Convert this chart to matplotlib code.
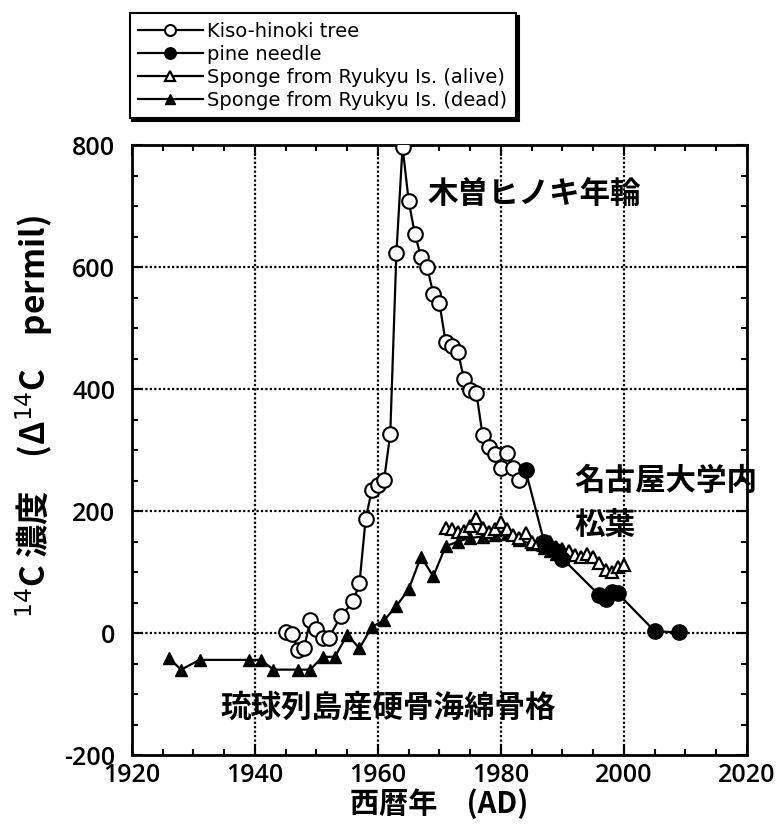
import matplotlib
matplotlib.use("Agg")
import matplotlib.pyplot as plt
from matplotlib.ticker import MultipleLocator
import numpy as np

plt.rcParams['font.family'] = ['DejaVu Sans', 'Noto Sans CJK JP']
plt.rcParams['mathtext.fontset'] = 'dejavusans'
plt.rcParams['axes.unicode_minus'] = False

# ---- data ----
kiso_years = [1945, 1946, 1947, 1948, 1949, 1950, 1951, 1952, 1954, 1956, 1957, 1958,
              1959, 1960, 1961, 1962, 1963, 1964, 1965, 1966, 1967, 1968, 1969, 1970,
              1971, 1972, 1973, 1974, 1975, 1976, 1977, 1978, 1979, 1980, 1981, 1982, 1983]
kiso_vals = [2, -2, -28, -24, 21, 6, -8, -8, 28, 52, 82, 187,
             234, 243, 251, 326, 623, 797, 708, 654, 617, 600, 556, 541,
             477, 470, 461, 416, 398, 394, 325, 305, 293, 270, 295, 270, 251]

pine_years = [1984, 1987, 1988, 1989, 1990, 1996, 1997, 1998, 1999, 2005, 2009]
pine_vals = [267, 150, 140, 135, 122, 62, 55, 68, 65, 3, 1]

alive_years = [1971, 1972, 1973, 1974, 1975, 1976, 1977, 1978, 1979, 1980, 1981, 1982,
               1983, 1984, 1985, 1986, 1987, 1988, 1989, 1990, 1991, 1992, 1993, 1994,
               1995, 1996, 1997, 1998, 1999, 2000]
alive_vals = [173, 170, 165, 168, 175, 188, 172, 165, 170, 182, 170, 160,
              156, 164, 150, 148, 145, 150, 141, 138, 135, 128, 125, 130,
              125, 115, 103, 100, 109, 112]

dead_years = [1926, 1928, 1931, 1939, 1941, 1943, 1947, 1949, 1951, 1953, 1955, 1957,
              1959, 1961, 1963, 1965, 1967, 1969, 1971, 1973, 1975, 1977, 1979, 1981,
              1983, 1985, 1987, 1988, 1989]
dead_vals = [-41, -60, -44, -44, -44, -60, -60, -60, -39, -39, -3, -25,
             10, 21, 44, 72, 125, 93, 142, 150, 156, 158, 160, 162,
             152, 146, 140, 135, 130]

x_ticks = [1920, 1940, 1960, 1980, 2000, 2020]
y_ticks = [-200, 0, 200, 400, 600, 800]

# ---- figure ----
fig = plt.figure(figsize=(7.76, 8.32), dpi=100)
ax = fig.add_axes([0.170, 0.0925, 0.7926, 0.7332])

lw = 1.6
ax.plot(dead_years, dead_vals, '-', color='black', lw=lw, marker='^', ms=9,
        mfc='black', mec='black', label='Sponge from Ryukyu Is. (dead)', zorder=3)
ax.plot(alive_years, alive_vals, '-', color='black', lw=lw, marker='^', ms=9,
        mfc='white', mec='black', mew=1.6, label='Sponge from Ryukyu Is. (alive)', zorder=3)
ax.plot(kiso_years, kiso_vals, '-', color='black', lw=lw, marker='o', ms=10.5,
        mfc='white', mec='black', mew=1.5, label='Kiso-hinoki tree', zorder=4)
ax.plot(pine_years, pine_vals, '-', color='black', lw=lw, marker='o', ms=11,
        mfc='black', mec='black', label='pine needle', zorder=5)

ax.set_xlim(1920, 2020)
ax.set_ylim(-200, 800)
tick_font = dict(fontsize=18, fontweight='semibold', family='Open Sans')
ax.set_xticks(x_ticks, labels=[str(v) for v in x_ticks], **tick_font)
ax.set_yticks(y_ticks, labels=[str(v) for v in y_ticks], **tick_font)
ax.xaxis.set_minor_locator(MultipleLocator(5))
ax.yaxis.set_minor_locator(MultipleLocator(50))
ax.tick_params(which='both', direction='in', top=True, right=True, width=1.5)
ax.tick_params(which='major', length=8)
ax.tick_params(axis='y', which='major', pad=12)
ax.tick_params(axis='x', which='major', pad=6)
ax.tick_params(which='minor', length=4)
for s in ax.spines.values():
    s.set_linewidth(2)

for gx in [1940, 1960, 1980, 2000]:
    ax.axvline(gx, color='black', lw=1.6, ls=(0, (1, 1)), zorder=1)
for gy in [0, 200, 400, 600]:
    ax.axhline(gy, color='black', lw=1.6, ls=(0, (1, 1)), zorder=1)

jp = ['Noto Sans CJK JP', 'DejaVu Sans']
ax.set_xlabel('西暦年\u3000(AD)', fontsize=21, fontweight='bold', family=jp, labelpad=0)
ax.set_ylabel('$^{14}$C 濃度\u3000(Δ$^{14}$C\u3000permil)', fontsize=24, fontweight='bold',
              family=jp, labelpad=8)
ax.yaxis.set_label_coords(-0.125, 0.555)

ax.text(1968, 720, '木曽ヒノキ年輪', fontsize=22, fontweight='bold', family=jp,
        va='center', ha='left')
ax.text(1992, 250, '名古屋大学内', fontsize=22, fontweight='bold', family=jp,
        va='center', ha='left', clip_on=False)
ax.text(1992, 177, '松葉', fontsize=22, fontweight='bold', family=jp,
        va='center', ha='left', clip_on=False)
ax.text(1934.3, -122, '琉球列島産硬骨海綿骨格', fontsize=22, fontweight='bold', family=jp,
        va='center', ha='left')

handles, labels = ax.get_legend_handles_labels()
order = [2, 3, 1, 0]
leg = fig.legend([handles[i] for i in order], [labels[i] for i in order],
                 loc='upper left', bbox_to_anchor=(0.167, 0.984),
                 prop={'family': 'DejaVu Sans', 'size': 14},
                 frameon=True, fancybox=False, markerscale=0.75,
                 shadow={'color': 'black', 'alpha': 1.0},
                 handlelength=3.3, handletextpad=0.25, labelspacing=0.2,
                 borderpad=0.45, borderaxespad=0)
leg.get_frame().set_edgecolor('black')
leg.get_frame().set_linewidth(1.5)

fig.savefig('out.png', dpi=100)
